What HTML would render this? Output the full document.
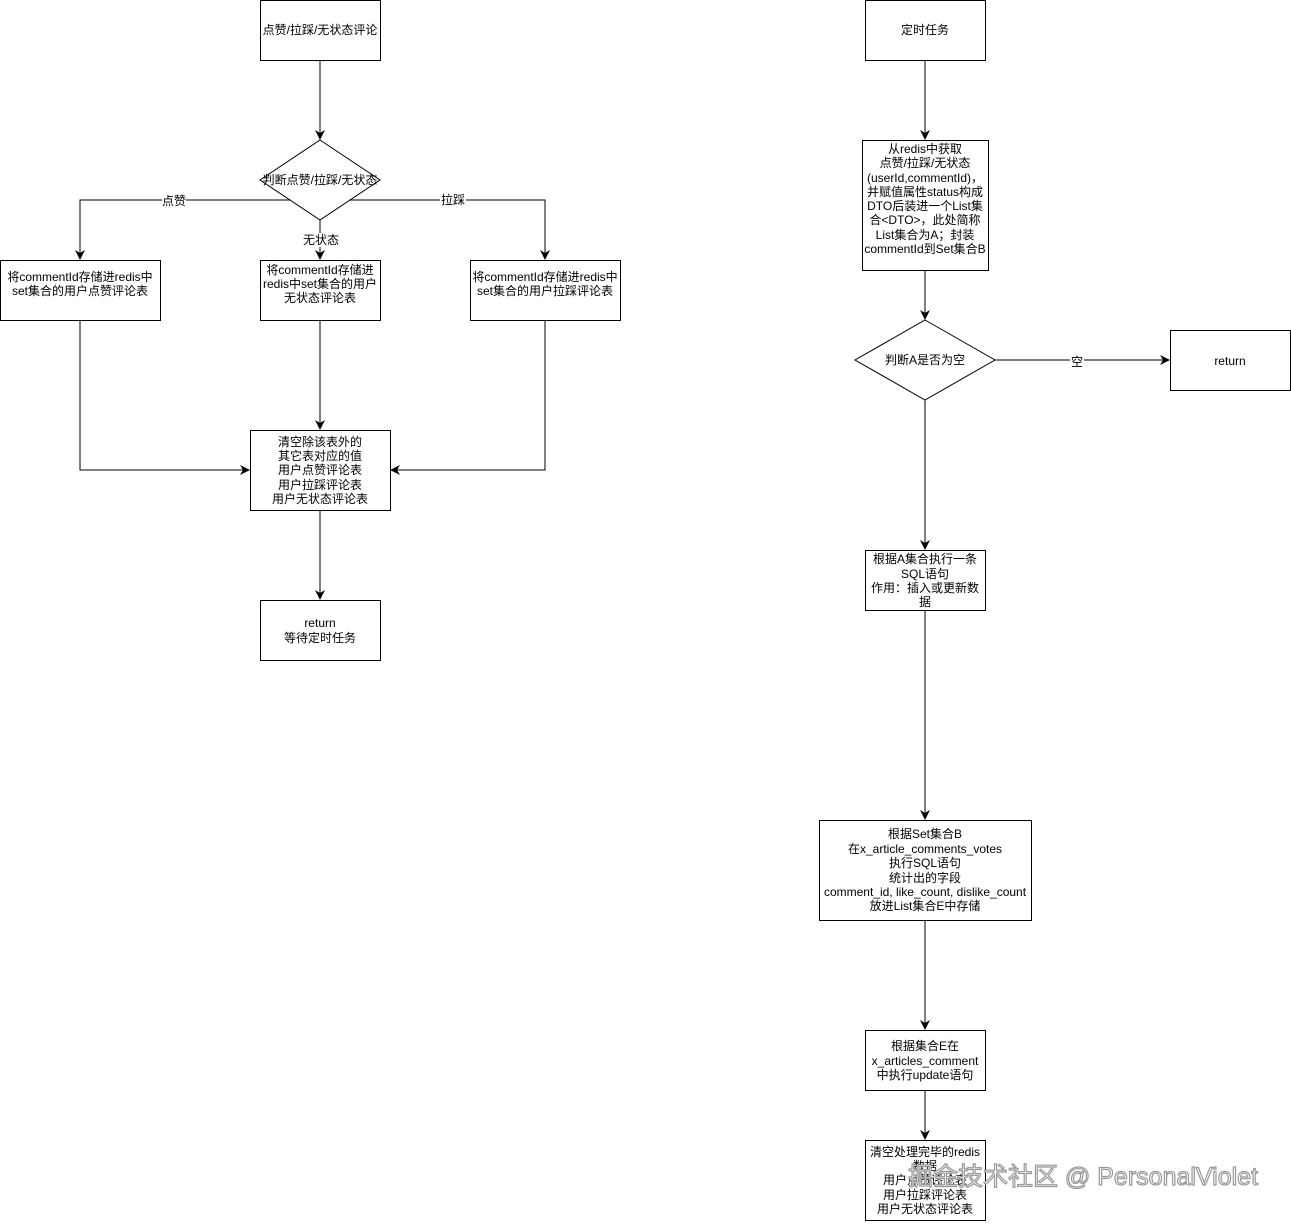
<!DOCTYPE html>
<html><head><meta charset="utf-8"><style>
html,body{margin:0;padding:0;background:#fff;}
svg text{font-family:"Liberation Sans","Noto Sans CJK SC",sans-serif;font-size:12px;fill:#000;text-anchor:middle;}
</style></head><body>
<svg width="1291" height="1221" viewBox="0 0 1291 1221" xmlns="http://www.w3.org/2000/svg">
<defs><marker id="a" markerWidth="10" markerHeight="10" refX="9" refY="5" orient="auto" markerUnits="userSpaceOnUse"><path d="M0,0 L10,5 L0,10 L3,5 z" fill="#000"/></marker></defs>
<g stroke="#000" stroke-width="1" fill="none">
<rect x="260.5" y="0.5" width="120" height="60" fill="#fff"/>
<path d="M320,60 V139" marker-end="url(#a)"/>
<polygon points="320,140 380,180 320,220 260,180" fill="#fff"/>
<path d="M290,200 H80 V259" marker-end="url(#a)"/>
<path d="M350,200 H545 V259" marker-end="url(#a)"/>
<path d="M320,220 V259" marker-end="url(#a)"/>
<rect x="0.5" y="260.5" width="160" height="60" fill="#fff"/>
<rect x="260.5" y="260.5" width="120" height="60" fill="#fff"/>
<rect x="470.5" y="260.5" width="150" height="60" fill="#fff"/>
<path d="M80,320 V470 H249" marker-end="url(#a)"/>
<path d="M320,320 V429" marker-end="url(#a)"/>
<path d="M545,320 V470 H391" marker-end="url(#a)"/>
<rect x="250.5" y="430.5" width="140" height="80" fill="#fff"/>
<path d="M320,510 V599" marker-end="url(#a)"/>
<rect x="260.5" y="600.5" width="120" height="60" fill="#fff"/>
<rect x="865.5" y="0.5" width="120" height="60" fill="#fff"/>
<path d="M925,60 V139" marker-end="url(#a)"/>
<rect x="862.5" y="140.5" width="126" height="130" fill="#fff"/>
<path d="M925,270 V319" marker-end="url(#a)"/>
<polygon points="925,320 995,360 925,400 855,360" fill="#fff"/>
<path d="M995,360 H1169" marker-end="url(#a)"/>
<rect x="1170.5" y="330.5" width="120" height="60" fill="#fff"/>
<path d="M925,400 V549" marker-end="url(#a)"/>
<rect x="865.5" y="550.5" width="120" height="60" fill="#fff"/>
<path d="M925,610 V819" marker-end="url(#a)"/>
<rect x="819.5" y="820.5" width="212" height="100" fill="#fff"/>
<path d="M925,920 V1029" marker-end="url(#a)"/>
<rect x="865.5" y="1030.5" width="120" height="60" fill="#fff"/>
<path d="M925,1090 V1139" marker-end="url(#a)"/>
<rect x="865.5" y="1140.5" width="120" height="80" fill="#fff"/>
</g>
<rect x="162" y="194" width="24" height="14" fill="#fff"/>
<rect x="440" y="193" width="26" height="14" fill="#fff"/>
<rect x="303" y="233" width="36" height="14" fill="#fff"/>
<rect x="1070" y="354" width="14" height="14" fill="#fff"/>
<text x="320" y="34">点赞/拉踩/无状态评论</text>
<text x="320" y="184">判断点赞/拉踩/无状态</text>
<text x="174" y="205">点赞</text>
<text x="453" y="204">拉踩</text>
<text x="321" y="244">无状态</text>
<text x="80" y="281">将commentId存储进redis中</text>
<text x="80" y="295">set集合的用户点赞评论表</text>
<text x="320" y="274">将commentId存储进</text>
<text x="320" y="288">redis中set集合的用户</text>
<text x="320" y="302">无状态评论表</text>
<text x="545" y="281">将commentId存储进redis中</text>
<text x="545" y="295">set集合的用户拉踩评论表</text>
<text x="320" y="446">清空除该表外的</text>
<text x="320" y="460">其它表对应的值</text>
<text x="320" y="474">用户点赞评论表</text>
<text x="320" y="489">用户拉踩评论表</text>
<text x="320" y="503">用户无状态评论表</text>
<text x="320" y="627">return</text>
<text x="320" y="642">等待定时任务</text>
<text x="925" y="34">定时任务</text>
<text x="925" y="153">从redis中获取</text>
<text x="925" y="167">点赞/拉踩/无状态</text>
<text x="925" y="182">(userId,commentId)，</text>
<text x="925" y="196">并赋值属性status构成</text>
<text x="925" y="210">DTO后装进一个List集</text>
<text x="925" y="224">合&lt;DTO&gt;，此处简称</text>
<text x="925" y="239">List集合为A；封装</text>
<text x="925" y="253">commentId到Set集合B</text>
<text x="925" y="364">判断A是否为空</text>
<text x="1077" y="366">空</text>
<text x="1230" y="365">return</text>
<text x="925" y="563">根据A集合执行一条</text>
<text x="925" y="578">SQL语句</text>
<text x="925" y="592">作用：插入或更新数</text>
<text x="925" y="606">据</text>
<text x="925" y="838">根据Set集合B</text>
<text x="925" y="853">在x_article_comments_votes</text>
<text x="925" y="867">执行SQL语句</text>
<text x="925" y="882">统计出的字段</text>
<text x="925" y="896">comment_id, like_count, dislike_count</text>
<text x="925" y="910">放进List集合E中存储</text>
<text x="925" y="1050">根据集合E在</text>
<text x="925" y="1065">x_articles_comment</text>
<text x="925" y="1079">中执行update语句</text>
<text x="925" y="1156">清空处理完毕的redis</text>
<text x="925" y="1170">数据</text>
<text x="925" y="1184">用户点赞评论表</text>
<text x="925" y="1199">用户拉踩评论表</text>
<text x="925" y="1213">用户无状态评论表</text>
<text x="1083" y="1185" style="font-size:25px;fill:#fff;stroke:#999;stroke-width:1.2;">掘金技术社区 @ PersonalViolet</text>
</svg>
</body></html>
